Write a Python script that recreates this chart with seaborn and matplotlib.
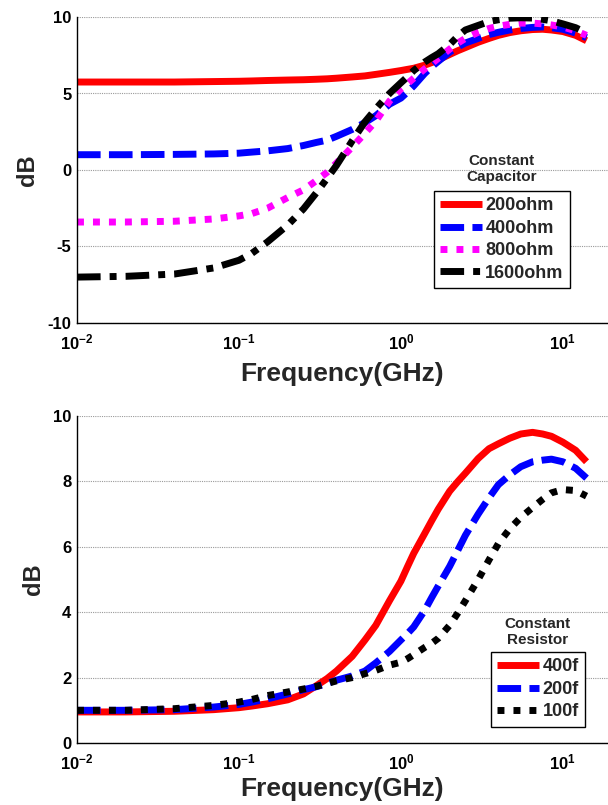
import numpy as np
import pandas as pd
import matplotlib
matplotlib.use("Agg")
import matplotlib.pyplot as plt
import seaborn as sns
from matplotlib.ticker import FixedLocator, LogLocator, NullFormatter

# ---------------- data ----------------
freq = [0.01, 0.02, 0.04, 0.07, 0.1, 0.12, 0.15, 0.2, 0.25, 0.3, 0.35, 0.4, 0.5,
        0.6, 0.7, 0.85, 1.0, 1.1, 1.2, 1.4, 1.55, 1.7, 2.0, 2.25, 2.5, 3.0, 3.5,
        4.0, 4.7, 5.5, 6.5, 7.5, 8.5, 10, 12, 14]

top_names = ["200ohm", "400ohm", "800ohm", "1600ohm"]
r200 = [5.75, 5.75, 5.75, 5.78, 5.8, 5.82, 5.85, 5.88, 5.9, 5.93, 5.96, 6.0, 6.08,
        6.15, 6.25, 6.38, 6.5, 6.58, 6.65, 6.85, 7.02, 7.2, 7.55, 7.8, 8.0, 8.35, 8.6,
        8.8, 8.98, 9.1, 9.18, 9.2, 9.15, 9.05, 8.8, 8.45]
r400 = [1.0, 1.0, 1.02, 1.05, 1.1, 1.17, 1.25, 1.4, 1.6, 1.8, 1.95, 2.2, 2.65,
        3.1, 3.55, 4.3, 4.7, 5.1, 5.5, 6.3, 6.75, 7.1, 7.7, 8.05, 8.3, 8.6, 8.85,
        9.0, 9.15, 9.25, 9.32, 9.35, 9.3, 9.2, 8.95, 8.65]
r800 = [-3.4, -3.4, -3.35, -3.2, -3.0, -2.85, -2.5, -1.8, -1.3, -0.7, -0.15, 0.45, 1.5,
        2.4, 3.2, 4.5, 5.3, 5.65, 6.0, 6.6, 6.95, 7.3, 7.9, 8.3, 8.6, 9.0, 9.25,
        9.4, 9.52, 9.6, 9.6, 9.55, 9.48, 9.35, 9.1, 8.8]
r1600 = [-7.0, -6.95, -6.8, -6.4, -5.9, -5.45, -4.7, -3.6, -2.55, -1.5, -0.55, 0.3, 1.9,
         3.15, 4.0, 5.0, 5.7, 6.1, 6.5, 7.05, 7.35, 7.6, 8.2, 8.75, 9.15, 9.45, 9.7,
         9.82, 9.92, 9.95, 9.93, 9.85, 9.75, 9.55, 9.3, 8.95]

bot_names = ["400f", "200f", "100f"]
c400 = [0.95, 0.95, 0.97, 1.02, 1.08, 1.13, 1.2, 1.32, 1.5, 1.75, 1.97, 2.2, 2.65,
        3.15, 3.6, 4.35, 4.95, 5.4, 5.8, 6.4, 6.8, 7.15, 7.7, 8.0, 8.25, 8.7, 9.0,
        9.15, 9.32, 9.45, 9.5, 9.45, 9.38, 9.2, 8.95, 8.6]
c200 = [1.0, 1.0, 1.02, 1.1, 1.18, 1.25, 1.35, 1.5, 1.63, 1.72, 1.82, 1.92, 2.05,
        2.2, 2.45, 2.8, 3.15, 3.35, 3.55, 4.05, 4.45, 4.8, 5.4, 5.9, 6.35, 7.0, 7.5,
        7.9, 8.2, 8.45, 8.6, 8.65, 8.68, 8.6, 8.4, 8.1]
c100 = [1.0, 1.0, 1.05, 1.15, 1.25, 1.33, 1.45, 1.56, 1.65, 1.73, 1.82, 1.9, 2.0,
        2.12, 2.22, 2.38, 2.47, 2.58, 2.7, 2.92, 3.05, 3.2, 3.6, 3.98, 4.35, 5.0, 5.6,
        6.1, 6.55, 6.9, 7.2, 7.45, 7.65, 7.75, 7.72, 7.55]

top_yticks = [-10, -5, 0, 5, 10]
bot_yticks = [0, 2, 4, 6, 8, 10]
x_ticks = [0.01, 0.1, 1, 10]
x_ticklabels = [r"$10^{-2}$", r"$10^{-1}$", r"$10^{0}$", r"$10^{1}$"]

# ---------------- style ----------------
sns.set_style("white")
plt.rcParams["font.family"] = ["Liberation Sans", "DejaVu Sans"]
plt.rcParams["font.weight"] = "bold"
plt.rcParams["axes.labelweight"] = "bold"
plt.rcParams["mathtext.fontset"] = "custom"
plt.rcParams["mathtext.rm"] = "Liberation Sans:bold"
plt.rcParams["mathtext.it"] = "Liberation Sans:bold"
plt.rcParams["mathtext.bf"] = "Liberation Sans:bold"
plt.rcParams["mathtext.default"] = "rm"

LW = 5.0
fig = plt.figure(figsize=(6.08, 8.05), dpi=100)
W, H = 608.0, 805.0

def make_ax(top_px, bot_px):
    left, right = 77.0, 608.0
    return fig.add_axes([left / W, 1 - bot_px / H, (right - left) / W, (bot_px - top_px) / H])

ax1 = make_ax(17, 323)
ax2 = make_ax(416, 743)

def long_df(names, series):
    rows = []
    for n, s in zip(names, series):
        rows.append(pd.DataFrame({"f": freq, "dB": s, "series": n}))
    return pd.concat(rows, ignore_index=True)

df_top = long_df(top_names, [r200, r400, r800, r1600])
df_bot = long_df(bot_names, [c400, c200, c100])

pal_top = {"200ohm": "#ff0000", "400ohm": "#0000ff", "800ohm": "#ff00ff", "1600ohm": "#000000"}
dash_top = {"200ohm": "", "400ohm": (3.4, 1.2), "800ohm": (1.0, 1.3),
            "1600ohm": (3.4, 1.3, 1.0, 1.3)}
pal_bot = {"400f": "#ff0000", "200f": "#0000ff", "100f": "#000000"}
dash_bot = {"400f": "", "200f": (3.4, 1.2), "100f": (1.0, 1.3)}

sns.lineplot(data=df_top, x="f", y="dB", hue="series", style="series",
             hue_order=top_names, style_order=top_names, palette=pal_top,
             dashes=dash_top, lw=LW, legend=False, estimator=None, ax=ax1)
sns.lineplot(data=df_bot, x="f", y="dB", hue="series", style="series",
             hue_order=bot_names, style_order=bot_names, palette=pal_bot,
             dashes=dash_bot, lw=LW, legend=False, estimator=None, ax=ax2)

for ax, yt, xlpad in [(ax1, top_yticks, 7), (ax2, bot_yticks, 3)]:
    for ln in ax.lines:
        ln.set_dash_capstyle("butt")
        ln.set_solid_capstyle("butt")
        ln.set_solid_joinstyle("round")
        ln.set_dash_joinstyle("round")
    ax.set_xscale("log")
    ax.set_xlim(0.01, 19)
    ax.set_ylim(yt[0], yt[-1])
    ax.set_yticks(yt)
    ax.set_yticklabels([str(v) for v in yt], fontsize=12, fontweight="bold")
    ax.xaxis.set_major_locator(FixedLocator(x_ticks))
    ax.set_xticklabels(x_ticklabels, fontsize=12)
    ax.xaxis.set_minor_locator(LogLocator(base=10, subs=np.arange(2, 10)))
    ax.xaxis.set_minor_formatter(NullFormatter())
    ax.tick_params(axis="both", which="major", direction="in", length=3, width=0.8,
                   colors="black")
    ax.tick_params(axis="x", which="major", pad=7)
    ax.tick_params(axis="y", which="major", pad=4)
    ax.tick_params(axis="x", which="minor", direction="in", length=2.5, width=0.8)
    ax.yaxis.grid(True, color="#9a9a9a", linestyle=(0, (1, 1)), linewidth=0.8)
    ax.xaxis.grid(False)
    ax.set_axisbelow(True)
    for s in ["top", "right"]:
        ax.spines[s].set_visible(False)
    for s in ["left", "bottom"]:
        ax.spines[s].set_color("black")
        ax.spines[s].set_linewidth(1.0)
    ax.set_xlabel("Frequency(GHz)", fontsize=19, fontweight="bold", labelpad=xlpad)
    ax.set_ylabel("dB", fontsize=17, fontweight="bold", labelpad=6)
    ax.patch.set_alpha(0)

# legends
leg1 = ax1.legend(handles=ax1.lines[:4], labels=top_names, loc="upper left",
                  bbox_to_anchor=(0.672, 0.431), borderaxespad=0, fancybox=False,
                  framealpha=1, edgecolor="black", handlelength=2.3, handletextpad=0.2,
                  labelspacing=0.3, borderpad=0.35, prop={"size": 13, "weight": "bold"})
leg1.get_frame().set_linewidth(1.0)
ax1.text(0.80, 0.503, "Constant\nCapacitor", transform=ax1.transAxes, ha="center",
         va="center", fontsize=11, fontweight="bold", linespacing=1.2)

leg2 = ax2.legend(handles=ax2.lines[:3], labels=bot_names, loc="upper left",
                  bbox_to_anchor=(0.78, 0.278), borderaxespad=0, fancybox=False,
                  framealpha=1, edgecolor="black", handlelength=2.3, handletextpad=0.2,
                  labelspacing=0.3, borderpad=0.35, prop={"size": 13, "weight": "bold"})
leg2.get_frame().set_linewidth(1.0)
ax2.text(0.868, 0.339, "Constant\nResistor", transform=ax2.transAxes, ha="center",
         va="center", fontsize=11, fontweight="bold", linespacing=1.2)

fig.savefig("out.png", dpi=100)
